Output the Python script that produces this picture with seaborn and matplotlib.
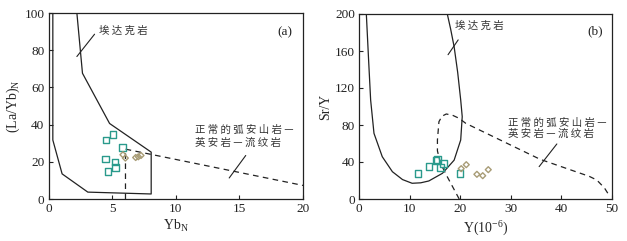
import matplotlib
matplotlib.use("Agg")
import matplotlib.pyplot as plt
import seaborn as sns
import pandas as pd

# --- data ---
# panel (a): YbN vs (La/Yb)N
a_sq_x = [4.53, 5.06, 5.82, 4.46, 5.22, 5.27, 4.69]
a_sq_y = [31.7, 34.8, 27.8, 21.5, 19.9, 16.8, 14.7]
a_dm_x = [5.85, 6.04, 6.85, 7.06, 7.27]
a_dm_y = [23.8, 22.0, 22.3, 22.7, 23.4]

# adakite field (solid) and normal arc field (dashed)
a_adakite_x = [0.34, 0.34, 1.07, 3.09, 8.07, 8.07, 4.8, 2.67, 2.23]
a_adakite_y = [100, 31.7, 13.5, 3.7, 2.7, 25.2, 40.6, 67.6, 100]
a_arc_x = [6.05, 6.05, 20]
a_arc_y = [0, 26.8, 7.3]

# panel (b): Y vs Sr/Y
b_sq_x = [11.66, 13.8, 15.2, 15.55, 16.7, 16.07, 19.96]
b_sq_y = [27.4, 35.3, 41.4, 42.9, 38.2, 33.8, 27.4]
b_dm_x = [20.2, 21.2, 23.3, 24.45, 25.55]
b_dm_y = [32.8, 37.1, 26.7, 25.2, 31.7]

b_adakite_x = [1.45, 1.9, 2.3, 2.96, 4.6, 6.6, 8.6, 10.5, 12.2, 13.8, 16.5, 18.8,
               20.1, 20.4, 20.1, 19.5, 18.8, 18.1, 17.45]
b_adakite_y = [200, 150, 107, 71, 45.7, 29.5, 21, 17, 17.5, 19.5, 27.8, 42,
               63.8, 89, 107, 137, 164.6, 184, 200]
b_arc_x = [19.8, 17.45, 16.1, 15.5, 15.5, 15.8, 16.4, 17.25, 18.5, 19.8, 21.1,
           35.8, 45.5, 47.0, 48.5, 49.6]
b_arc_y = [0, 24, 38.6, 52, 63.8, 83.6, 89.5, 91.9, 90.5, 87.2, 81.8,
           42.9, 24.5, 20.5, 12, 2.5]

label_adakite = "埃达克岩"
label_arc_1 = "正常的弧安山岩—"
label_arc_2 = "英安岩—流纹岩"

sq_color = "#2a9a8c"
dm_color = "#a89c76"
line_color = "#222222"
text_color = "#333333"

sns.set_style("ticks")
plt.rcParams["font.family"] = ["Liberation Serif", "Noto Sans CJK SC", "DejaVu Sans"]
plt.rcParams["mathtext.fontset"] = "custom"
plt.rcParams["mathtext.rm"] = "Liberation Serif"
plt.rcParams["xtick.direction"] = "in"
plt.rcParams["ytick.direction"] = "in"

cjk = ["Noto Sans CJK SC", "DejaVu Sans"]


def spaced(s):
    # the reference sets the Chinese labels with wide letter spacing
    return " ".join(s)


fig = plt.figure(figsize=(6.27, 2.41), dpi=100)
W, H = 627, 241
ax_a = fig.add_axes([48.5 / W, 1 - 199 / H, (303 - 48.5) / W, (199 - 13) / H])
ax_b = fig.add_axes([359 / W, 1 - 199 / H, (612 - 359) / W, (199 - 14) / H])


def draw_points(ax, sx, sy, dx, dy):
    sq = pd.DataFrame({"x": sx, "y": sy})
    dm = pd.DataFrame({"x": dx, "y": dy})
    sns.scatterplot(data=sq, x="x", y="y", ax=ax, marker="s", s=22,
                    facecolors="none", edgecolor=sq_color, linewidth=1.0, zorder=4)
    sns.scatterplot(data=dm, x="x", y="y", ax=ax, marker="D", s=9,
                    facecolors="none", edgecolor=dm_color, linewidth=1.0, zorder=4)


dash = (0, (4.5, 3.5))

# panel (a)
ax = ax_a
ax.plot(a_adakite_x, a_adakite_y, color=line_color, lw=0.9, zorder=3)
ax.plot(a_arc_x, a_arc_y, color=line_color, lw=0.9, ls=dash, zorder=3)
draw_points(ax, a_sq_x, a_sq_y, a_dm_x, a_dm_y)
ax.plot([2.23, 3.62], [76.6, 88.6], color=line_color, lw=0.8)
ax.plot([14.2, 15.5], [11.3, 23.4], color=line_color, lw=0.8)
ax.text(3.95, 90.2, spaced(label_adakite), family=cjk, fontsize=7.5, color=text_color, va="center")
ax.text(18.6, 89.4, "(a)", fontsize=9.5, ha="center", va="center", color="#222222")
ax.text(11.55, 37.0, spaced(label_arc_1), family=cjk, fontsize=7.5, color=text_color, va="center")
ax.text(11.55, 30.0, spaced(label_arc_2), family=cjk, fontsize=7.5, color=text_color, va="center")
ax.set_xlim(0, 20)
ax.set_ylim(0, 100)
ax.set_xticks([0, 5, 10, 15, 20])
ax.set_yticks([0, 20, 40, 60, 80, 100])
ax.set_xlabel(r"Yb$_{\mathregular{N}}$", fontsize=10, labelpad=2)
ax.set_ylabel(r"(La/Yb)$_{\mathregular{N}}$", fontsize=10, labelpad=2)

# panel (b)
ax = ax_b
ax.plot(b_adakite_x, b_adakite_y, color=line_color, lw=0.9, zorder=3)
ax.plot(b_arc_x, b_arc_y, color=line_color, lw=0.9, ls=dash, zorder=3)
draw_points(ax, b_sq_x, b_sq_y, b_dm_x, b_dm_y)
ax.plot([17.6, 19.6], [156, 172], color=line_color, lw=0.8)
ax.plot([35.6, 39.1], [35, 59.5], color=line_color, lw=0.8)
ax.text(19.0, 187, spaced(label_adakite), family=cjk, fontsize=7.5, color=text_color, va="center")
ax.text(46.7, 181, "(b)", fontsize=9.5, ha="center", va="center", color="#222222")
ax.text(29.5, 82.5, spaced(label_arc_1), family=cjk, fontsize=7.5, color=text_color, va="center")
ax.text(29.5, 70.5, spaced(label_arc_2), family=cjk, fontsize=7.5, color=text_color, va="center")
ax.set_xlim(0, 50)
ax.set_ylim(0, 200)
ax.set_xticks([0, 10, 20, 30, 40, 50])
ax.set_yticks([0, 40, 80, 120, 160, 200])
ax.set_xlabel(r"Y(10$^{\mathregular{-6}}$)", fontsize=10, labelpad=2)
ax.set_ylabel("Sr/Y", fontsize=10, labelpad=2)

for ax in (ax_a, ax_b):
    ax.tick_params(labelsize=9.5, length=3, width=0.8, pad=3, colors="#222222")
    for sp in ax.spines.values():
        sp.set_visible(True)
        sp.set_linewidth(0.9)
        sp.set_color("#222222")

fig.savefig("out.png", dpi=100)
